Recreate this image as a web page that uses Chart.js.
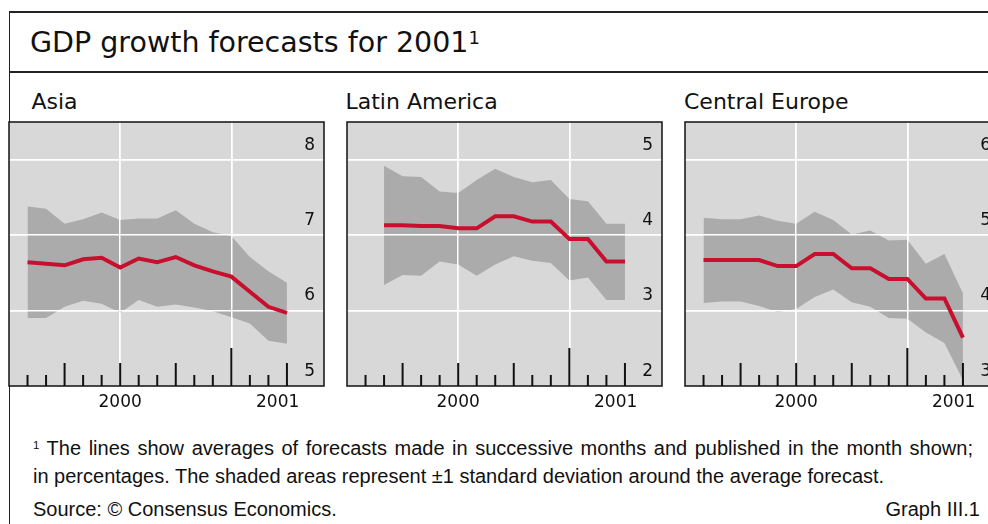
<!DOCTYPE html>
<html>
<head>
<meta charset="utf-8">
<script src="https://cdn.jsdelivr.net/npm/chart.js@4/dist/chart.umd.min.js"></script>
<style>
  html, body { margin: 0; padding: 0; background: #fff; }
  body { width: 988px; height: 524px; overflow: hidden; position: relative; color: #111; font-family: "Liberation Sans", Arial, sans-serif; }
  .abs { position: absolute; white-space: nowrap; line-height: 1; }
  .hl { position: absolute; left: 9px; width: 990px; height: 1.5px; background: #222; }
  .vl { position: absolute; left: 8.5px; top: 11px; width: 1.5px; height: 520px; background: #222; }
  #title { left: 30px; top: 29.2px; font-family: "DejaVu Sans", sans-serif; font-size: 28.5px; }
  #title sup { font-size: 18px; vertical-align: baseline; position: relative; top: -8.3px; }
  .ptitle { top: 90.7px; font-family: "DejaVu Sans", sans-serif; font-size: 22px; }
  .note { font-size: 20px; }
  .note sup { font-size: 11.5px; vertical-align: baseline; position: relative; top: -6px; }
  canvas { position: absolute; }
</style>
</head>
<body>
<div class="hl" style="top:11.25px"></div>
<div class="hl" style="top:71.25px"></div>
<div class="vl"></div>
<div id="title" class="abs">GDP growth forecasts for 2001<sup>1</sup></div>
<div id="t0" class="abs ptitle" style="left:31.5px"></div>
<div id="t1" class="abs ptitle" style="left:345.5px"></div>
<div id="t2" class="abs ptitle" style="left:684px"></div>
<canvas id="c0" width="325" height="299" style="left:4px;top:117px"></canvas>
<canvas id="c1" width="325" height="299" style="left:342px;top:117px"></canvas>
<canvas id="c2" width="325" height="299" style="left:680px;top:117px"></canvas>
<div class="abs note" style="left:33px;top:438px;width:940px;text-align:justify;text-align-last:justify;white-space:normal;"><sup>1</sup> The lines show averages of forecasts made in successive months and published in the month shown;</div>
<div class="abs note" style="left:33px;top:465.8px">in percentages. The shaded areas represent ±1 standard deviation around the average forecast.</div>
<div class="abs note" style="left:33px;top:499px">Source: © Consensus Economics.</div>
<div class="abs note" style="right:8px;top:499px">Graph III.1</div>
<script>
// ---------- data ----------
const months = ['Jan 2000','Feb 2000','Mar 2000','Apr 2000','May 2000','Jun 2000','Jul 2000','Aug 2000',
  'Sep 2000','Oct 2000','Nov 2000','Dec 2000','Jan 2001','Feb 2001','Mar 2001','Apr 2001','May 2001','Jun 2001'];
const tickMonths = months.slice(1, 16);          // monthly survey ticks, Feb 2000 - Apr 2001
const years = ['2000', '2001'];
const regions = ['Asia', 'Latin America', 'Central Europe'];
const startMonths = ['Feb 2000', 'Mar 2000', 'Feb 2000'];

const asiaMean = [6.64, 6.62, 6.60, 6.68, 6.70, 6.57, 6.69, 6.64, 6.71, 6.60, 6.52, 6.45, 6.25, 6.05, 5.97];
const asiaHigh = [7.38, 7.35, 7.15, 7.21, 7.30, 7.20, 7.22, 7.22, 7.33, 7.15, 7.04, 6.99, 6.71, 6.52, 6.37];
const asiaLow  = [5.90, 5.90, 6.05, 6.13, 6.09, 5.97, 6.14, 6.05, 6.08, 6.04, 5.99, 5.91, 5.83, 5.60, 5.56];

const latamMean = [4.13, 4.13, 4.12, 4.12, 4.09, 4.09, 4.25, 4.25, 4.18, 4.18, 3.95, 3.95, 3.65, 3.65];
const latamHigh = [4.92, 4.78, 4.77, 4.58, 4.56, 4.73, 4.88, 4.77, 4.70, 4.73, 4.48, 4.45, 4.15, 4.15];
const latamLow  = [3.34, 3.47, 3.46, 3.65, 3.61, 3.46, 3.61, 3.72, 3.66, 3.63, 3.40, 3.44, 3.14, 3.14];

const ceMean = [4.67, 4.67, 4.67, 4.67, 4.59, 4.59, 4.75, 4.75, 4.56, 4.56, 4.42, 4.42, 4.16, 4.16, 3.64];
const ceHigh = [5.23, 5.21, 5.21, 5.26, 5.19, 5.15, 5.31, 5.20, 5.01, 5.06, 4.93, 4.94, 4.62, 4.75, 4.23];
const ceLow  = [4.10, 4.12, 4.12, 4.06, 3.98, 4.02, 4.18, 4.28, 4.11, 4.05, 3.90, 3.89, 3.71, 3.57, 3.08];

const asiaTicks  = [5, 6, 7, 8];
const latamTicks = [2, 3, 4, 5];
const ceTicks    = [3, 4, 5, 6];

// ---------- style ----------
const BG = '#d8d8d8', BAND = '#ababab', RED = '#c8102e', GRID = '#ffffff', INK = '#111111';
const AXIS_FONT = { family: 'DejaVu Sans', size: 17 };

const panels = [
  { title: regions[0], start: startMonths[0], mean: asiaMean,  high: asiaHigh,  low: asiaLow,  yTicks: asiaTicks },
  { title: regions[1], start: startMonths[1], mean: latamMean, high: latamHigh, low: latamLow, yTicks: latamTicks },
  { title: regions[2], start: startMonths[2], mean: ceMean,    high: ceHigh,    low: ceLow,    yTicks: ceTicks }
];

const deco = {
  id: 'deco',
  beforeDraw(chart) {
    const { ctx, chartArea: a } = chart;
    ctx.save();
    ctx.fillStyle = BG;
    ctx.fillRect(a.left, a.top, a.right - a.left, a.bottom - a.top);
    ctx.restore();
  },
  beforeDatasetDraw(chart, args) {
    if (args.index === 0) {           // grid above the shaded band, below the average line
      chart.scales.x.drawGrid(chart.chartArea);
      chart.scales.y.drawGrid(chart.chartArea);
    }
  },
  afterDatasetsDraw(chart) {
    const { ctx, chartArea: a } = chart;
    const xs = chart.scales.x;
    ctx.save();
    ctx.strokeStyle = INK;
    ctx.lineWidth = 2;
    tickMonths.forEach(name => {
      const m = months.indexOf(name);
      const x = xs.getPixelForValue(m);
      const len = m % 12 === 0 ? 38 : (m % 3 === 0 ? 23 : 11);
      ctx.beginPath();
      ctx.moveTo(x, a.bottom);
      ctx.lineTo(x, a.bottom - len);
      ctx.stroke();
    });
    ctx.lineWidth = 1.5;
    ctx.strokeRect(a.left, a.top, a.right - a.left, a.bottom - a.top);
    ctx.restore();
  }
};

function pts(start, values) {
  const s = months.indexOf(start);
  return values.map((v, i) => ({ x: s + i, y: v }));
}

panels.forEach((p, k) => {
  document.getElementById('t' + k).textContent = p.title;
  const xMin = 0, xMax = months.length - 1;
  const gridVals = [];
  for (let m = 6; m < xMax; m += 6) gridVals.push(m);
  const labelMap = new Map();
  gridVals.forEach(v => labelMap.set(v, ''));
  years.forEach((y, i) => {
    const a = Math.max(xMin, 12 * i), b = Math.min(xMax, 12 * i + 12);
    if (b > a) labelMap.set((a + b) / 2, y);
  });
  const yMin = p.yTicks[0], yMax = p.yTicks[p.yTicks.length - 1] + 0.5;

  new Chart(document.getElementById('c' + k), {
    type: 'line',
    data: {
      datasets: [
        { data: pts(p.start, p.mean), borderColor: RED, borderWidth: 4, fill: false, tension: 0,
          pointRadius: 0, borderCapStyle: 'butt', borderJoinStyle: 'miter' },
        { data: pts(p.start, p.high), borderWidth: 0, borderColor: 'rgba(0,0,0,0)', backgroundColor: BAND,
          fill: '+1', pointRadius: 0, tension: 0 },
        { data: pts(p.start, p.low), borderWidth: 0, borderColor: 'rgba(0,0,0,0)', fill: false,
          pointRadius: 0, tension: 0 }
      ]
    },
    options: {
      responsive: false,
      animation: false,
      events: [],
      layout: { padding: { left: 5, right: 5, top: 5, bottom: 0 } },
      plugins: { legend: { display: false }, tooltip: { enabled: false } },
      scales: {
        x: {
          type: 'linear', min: xMin, max: xMax,
          afterBuildTicks: s => { s.ticks = [...labelMap.keys()].sort((a, b) => a - b).map(v => ({ value: v })); },
          afterFit: s => { s.height = 30; s.paddingLeft = 0; s.paddingRight = 0; },
          border: { display: false },
          grid: { drawTicks: false, lineWidth: 1.5,
                  color: c => (c.tick && gridVals.includes(c.tick.value)) ? GRID : 'rgba(0,0,0,0)' },
          ticks: { autoSkip: false, maxRotation: 0, padding: 6, color: INK, font: AXIS_FONT,
                   callback: v => labelMap.get(v) || '' }
        },
        y: {
          type: 'linear', position: 'right', min: yMin, max: yMax,
          afterBuildTicks: s => { s.ticks = p.yTicks.map(v => ({ value: v })); },
          afterFit: s => { s.width = 0; s.paddingTop = 0; s.paddingBottom = 0; },
          border: { display: false },
          grid: { drawTicks: false, lineWidth: 1.5,
                  color: c => (c.tick && c.tick.value === yMin) ? 'rgba(0,0,0,0)' : GRID },
          ticks: { mirror: true, padding: -9, labelOffset: -14.5, z: 1, color: INK, font: AXIS_FONT,
                   callback: v => String(v) }
        }
      }
    },
    plugins: [deco]
  });
});
</script>
</body>
</html>
